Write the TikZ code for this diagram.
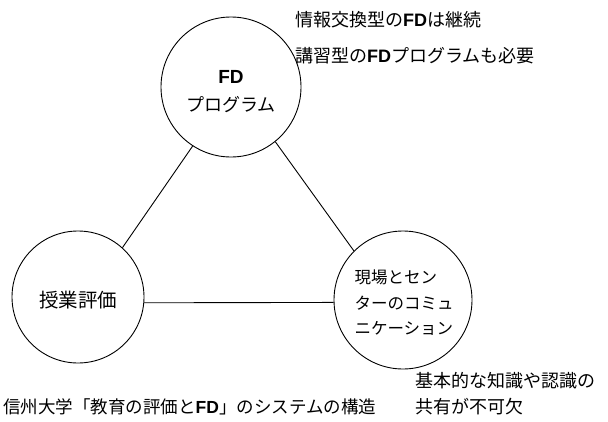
\documentclass[tikz,border=0pt]{standalone}
\usepackage{fontspec}
\newfontfamily\jp{Noto Sans CJK JP}
\newfontfamily\lat{Liberation Sans}
\newcommand{\FDb}{{\lat\bfseries FD}}
\tikzset{
  circ/.style={draw, circle, line width=0.9pt, inner sep=0pt},
  txt/.style={inner sep=0pt, font=\jp\fontsize{18}{28.5}\selectfont},
  conn/.style={line width=0.9pt},
}
\begin{document}
\begin{tikzpicture}[x=1pt,y=-1pt]
\useasboundingbox (0,0) rectangle (608,421);
% circles
\node[circ, minimum size=140pt] (top) at (231,87) {};
\node[circ, minimum size=132pt] (left) at (78,297) {};
\node[circ, minimum size=138pt] (right) at (403,300) {};
% circle texts
\node[txt, align=center] (topt) at ([yshift=-4.5pt]top.center) {\fontsize{19}{29}\selectfont\FDb\\プログラム};
\node[txt] (leftt) at ([yshift=-3pt]left.center) {\fontsize{19.5}{24}\selectfont 授業評価};
\node[txt, align=left, font=\jp\fontsize{16.5}{25.5}\selectfont] (rightt) at ([yshift=-3pt,xshift=1pt]right.center) {現場とセン\\ターのコミュ\\ニケーション};
% connectors
\draw[conn] (top.237) -- (left.48);
\draw[conn] (top.-51) -- (right.135);
\draw[conn] (left.-5) -- (right.182);
% annotations
\node[txt, anchor=west] (n1) at (295,20) {情報交換型の\FDb は継続};
\node[txt, anchor=west] (n2) at (295,56) {講習型の\FDb プログラムも必要};
\node[txt, anchor=west] (n3) at (415,381) {基本的な知識や認識の};
\node[txt, anchor=west] (n4) at (415,407) {共有が不可欠};
\node[txt, anchor=west] (n5) at (3,407) {\fontsize{17.5}{24}\selectfont 信州大学「教育の評価と\FDb」のシステムの構造};
\end{tikzpicture}
\end{document}
